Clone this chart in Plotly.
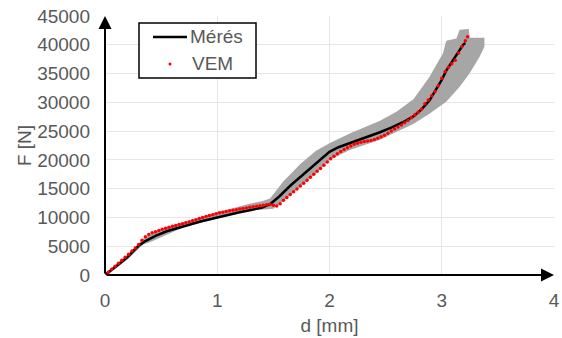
import plotly.graph_objects as go

# Measured curve (Mérés)
meres_d = [0.00, 0.05, 0.10, 0.15, 0.20, 0.25, 0.30, 0.36, 0.45, 0.55, 0.65, 0.75, 0.85, 1.00,
           1.10, 1.20, 1.30, 1.40, 1.47, 1.55, 1.65, 1.74, 1.85, 2.00, 2.08, 2.18, 2.30,
           2.45, 2.55, 2.65, 2.75, 2.82, 2.89, 2.95, 3.00, 3.04, 3.10, 3.15, 3.19, 3.21]
meres_F = [0, 700, 1500, 2300, 3100, 4100, 5100, 5900, 6800, 7600, 8200, 8700, 9300, 10000,
           10500, 10900, 11300, 11700, 12300, 13600, 15500, 17000, 18900, 21400, 22200, 22900, 23700,
           24800, 25600, 26500, 27600, 28800, 30300, 32200, 33900, 35500, 37300, 38900, 40000, 40300]

# Simulation points (VEM)
vem_d = [0.00, 0.03, 0.06, 0.09, 0.12, 0.15, 0.18, 0.21, 0.24, 0.27, 0.30, 0.33, 0.36, 0.39,
         0.42, 0.45, 0.48, 0.51, 0.54, 0.57, 0.60, 0.63, 0.66, 0.69, 0.72, 0.75, 0.78, 0.81,
         0.84, 0.87, 0.90, 0.93, 0.96, 0.99, 1.02, 1.05, 1.08, 1.11, 1.14, 1.17, 1.20, 1.23,
         1.26, 1.29, 1.32, 1.35, 1.38, 1.41, 1.44, 1.47, 1.50, 1.53, 1.56, 1.59, 1.62, 1.65,
         1.68, 1.71, 1.74, 1.77, 1.80, 1.83, 1.86, 1.89, 1.92, 1.95, 1.98, 2.01, 2.04, 2.07,
         2.10, 2.13, 2.16, 2.19, 2.22, 2.25, 2.28, 2.31, 2.34, 2.37, 2.40, 2.43, 2.46, 2.49,
         2.52, 2.55, 2.58, 2.61, 2.64, 2.67, 2.70, 2.73, 2.76, 2.79, 2.82, 2.85, 2.88, 2.91,
         2.94, 2.97, 3.00, 3.03, 3.06, 3.09, 3.12, 3.15, 3.18, 3.21, 3.23]
vem_F = [0, 480, 1000, 1520, 2050, 2580, 3100, 3620, 4150, 4680, 5300, 6020, 6650, 7050,
         7320, 7530, 7750, 7940, 8130, 8300, 8450, 8610, 8760, 8910, 9060, 9230, 9420, 9610,
         9800, 9980, 10150, 10320, 10480, 10640, 10800, 10920, 11040, 11150, 11250, 11350, 11450, 11550,
         11650, 11750, 11850, 11940, 12030, 12120, 12200, 12230, 12100, 12000, 12400, 12980, 13450, 13980,
         14450, 14950, 15450, 15920, 16450, 16980, 17500, 18020, 18500, 19050, 19650, 20180, 20650, 21080,
         21450, 21800, 22100, 22400, 22700, 22900, 23050, 23180, 23280, 23390, 23550, 23770, 24000, 24300,
         24650, 25000, 25350, 25700, 26050, 26450, 26850, 27320, 27800, 28270, 28800, 29750, 30400, 31150,
         31900, 32900, 34200, 35300, 36100, 36700, 37300, 38550, 39700, 40700, 41400]

# Scatter band of the measurements (upper-left edge, then lower-right edge)
band_upper_d = [0.00, 0.10, 0.20, 0.34, 0.45, 0.70, 1.00, 1.29, 1.40, 1.47, 1.59, 1.74, 1.88, 2.00,
                2.18, 2.45, 2.60, 2.75, 2.89, 3.01, 3.04, 3.13, 3.16, 3.24, 3.25, 3.38, 3.38]
band_upper_F = [300, 1900, 3500, 6300, 7500, 9200, 10900, 12400, 12800, 13300, 16300, 19300, 21600, 22900,
                24600, 26800, 28400, 30600, 34400, 38500, 40700, 41100, 42600, 42750, 41200, 41200, 39700]
band_lower_d = [3.34, 3.25, 3.16, 3.04, 2.89, 2.75, 2.60, 2.45, 2.18, 2.00, 1.88, 1.74, 1.59, 1.50,
                1.29, 1.00, 0.70, 0.40, 0.34, 0.20, 0.10, 0.02]
band_lower_F = [38000, 35100, 32700, 30100, 28000, 26300, 24900, 23500, 21700, 20000, 17700, 15300, 12900, 11500,
                11200, 9800, 8300, 5700, 5300, 2700, 1200, 0]

x_ticks = [0, 1, 2, 3, 4]
y_ticks = [0, 5000, 10000, 15000, 20000, 25000, 30000, 35000, 40000, 45000]
legend_names = ["Mérés", "VEM"]

TXT = "#595959"
FONT = "Liberation Sans, Arial, sans-serif"
FS = 19

W, H = 562, 338
ML, MR, MT, MB = 105, 8, 16, 63
PW, PH = W - ML - MR, H - MT - MB


def px_x(p):  # pixel -> paper x
    return (p - ML) / PW


def px_y(p):  # pixel -> paper y
    return (H - MB - p) / PH


fig = go.Figure()
fig.add_trace(go.Scatter(
    x=band_upper_d + band_lower_d, y=band_upper_F + band_lower_F,
    fill="toself", fillcolor="rgb(166,166,166)", line=dict(width=0),
    mode="lines", showlegend=False, hoverinfo="skip"))
fig.add_trace(go.Scatter(
    x=meres_d, y=meres_F, mode="lines", name=legend_names[0], showlegend=False,
    line=dict(color="black", width=2.5)))
fig.add_trace(go.Scatter(
    x=vem_d, y=vem_F, mode="markers", name=legend_names[1], showlegend=False,
    marker=dict(color="red", size=3.5, line=dict(width=0))))

grid = "#e6e6e6"
fig.update_xaxes(range=[0, 4], tickvals=x_ticks, ticktext=[str(v) for v in x_ticks],
                 showgrid=True, gridcolor=grid, gridwidth=1, zeroline=False, showline=False,
                 ticks="", ticklabelstandoff=12, automargin=False,
                 tickfont=dict(size=FS, color=TXT, family=FONT),
                 title=dict(text="d [mm]", font=dict(size=FS, color=TXT, family=FONT), standoff=8))
fig.update_yaxes(range=[0, 45000], tickvals=y_ticks, ticktext=[str(v) for v in y_ticks],
                 showgrid=True, gridcolor=grid, gridwidth=1, zeroline=False, showline=False,
                 ticks="", ticklabelstandoff=14, automargin=False,
                 tickfont=dict(size=FS, color=TXT, family=FONT),
                 title=dict(text="F [N]", font=dict(size=FS, color=TXT, family=FONT), standoff=0))

# arrowed axes
for (x, y) in [(4, 0), (0, 45000)]:
    fig.add_annotation(x=x, y=y, ax=0, ay=0, xref="x", yref="y", axref="x", ayref="y",
                       showarrow=True, arrowhead=2, arrowsize=1.3, arrowwidth=2,
                       arrowcolor="black", text="")

# legend box (drawn to match the reference's compact layout)
fig.add_shape(type="rect", xref="paper", yref="paper",
              x0=px_x(139), x1=px_x(256), y0=px_y(78), y1=px_y(23),
              fillcolor="white", line=dict(color="black", width=1.5))
fig.add_shape(type="line", xref="paper", yref="paper",
              x0=px_x(153), x1=px_x(187), y0=px_y(37), y1=px_y(37),
              line=dict(color="black", width=2.5))
fig.add_shape(type="circle", xref="paper", yref="paper",
              x0=px_x(168.5), x1=px_x(171.5), y0=px_y(65.5), y1=px_y(62.5),
              fillcolor="red", line=dict(width=0))
for name, ly, lx in [(legend_names[0], 37, 188), (legend_names[1], 64, 190)]:
    fig.add_annotation(x=px_x(lx), y=px_y(ly), xref="paper", yref="paper",
                       text=name, showarrow=False, xanchor="left", yanchor="middle",
                       font=dict(size=FS, color=TXT, family=FONT))

fig.update_layout(
    width=W, height=H,
    margin=dict(l=ML, r=MR, t=MT, b=MB),
    paper_bgcolor="white", plot_bgcolor="white",
    font=dict(family=FONT, color=TXT, size=FS),
    showlegend=False,
)

fig.write_html("out.html")
